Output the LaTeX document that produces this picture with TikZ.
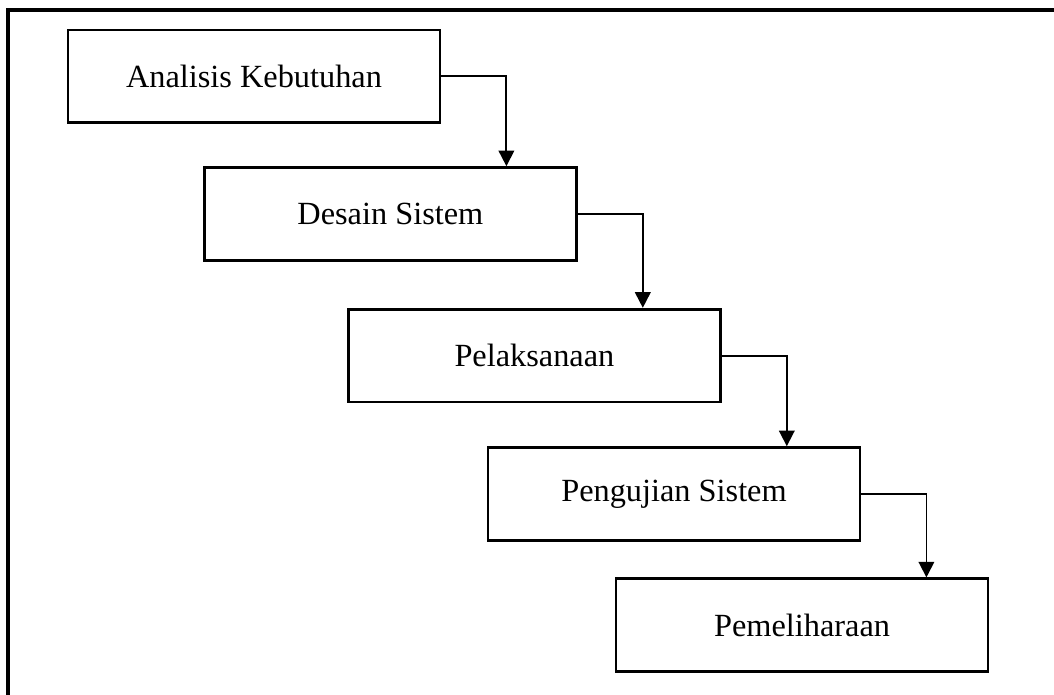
\documentclass[tikz,border=0pt]{standalone}
\usepackage{fontspec}
\setmainfont{Liberation Serif}
\usetikzlibrary{arrows.meta}

\tikzstyle{phase box}=[draw,line width=2pt,minimum width=9.3cm,
    minimum height=2.32cm,inner sep=0pt,font=\fontsize{23}{27}\selectfont]
\tikzstyle{phase flow}=[line width=1.3pt,
    -{Triangle[length=0.39cm,width=0.39cm]}]
\tikzstyle{page frame}=[line width=2.4pt]
\newcommand{\phase}[3]{
    \node[phase box] at (#1) (#2) {#3};
}
\newcommand{\phaseflow}[2]{
    \coordinate (turn#1) at ([xshift=1.625cm]#1.east);
    \draw[phase flow] (#1.east) -| (turn#1 |- #2.north);
}

\begin{document}
\begin{tikzpicture}
    \useasboundingbox (0,0) rectangle (26.35,-17.375);
    \draw[page frame] (0.2,-17.375) -- (0.2,-0.25) -- (26.35,-0.25);
    %
    \phase{6.35,-1.91}{analisis}{Analisis Kebutuhan}
    \phase{9.76,-5.35}{desain}{Desain Sistem}
    \phase{13.36,-8.89}{pelaksanaan}{Pelaksanaan}
    \phase{16.85,-12.35}{pengujian}{Pengujian Sistem}
    \phase{20.05,-15.63}{pemeliharaan}{Pemeliharaan}
    %
    \phaseflow{analisis}{desain}
    \phaseflow{desain}{pelaksanaan}
    \phaseflow{pelaksanaan}{pengujian}
    \phaseflow{pengujian}{pemeliharaan}
\end{tikzpicture}
\end{document}
